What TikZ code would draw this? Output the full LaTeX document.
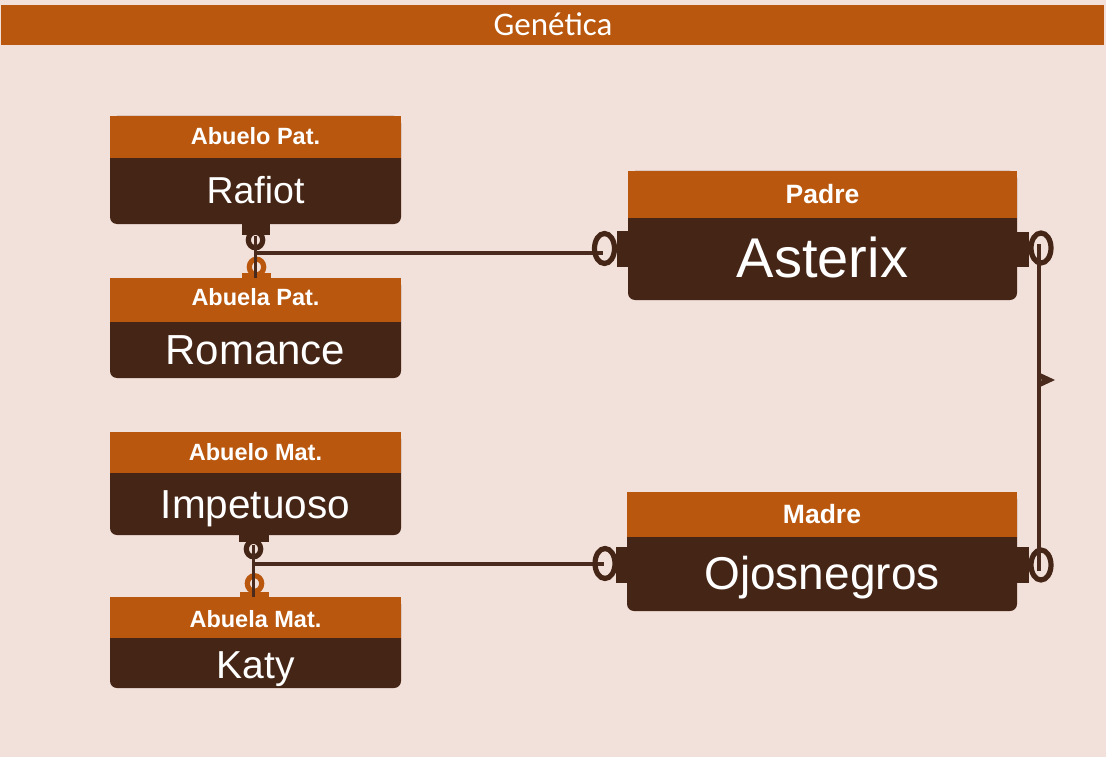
\documentclass[tikz,border=0pt]{standalone}
\usepackage{fontspec}
\setmainfont{Liberation Sans}
\newfontfamily\titlefont{Carlito}
\definecolor{bg}{HTML}{F2E0DA}
\definecolor{orng}{HTML}{B9570E}
\definecolor{drk}{HTML}{452516}
\definecolor{lnk}{HTML}{4A2A1C}
\tikzset{
  hdrtxt/.style={anchor=base,text=white,inner sep=0pt,font=\bfseries\fontsize{23.5}{28}\selectfont},
  bighdr/.style={anchor=base,text=white,inner sep=0pt,font=\bfseries\fontsize{26.5}{30}\selectfont},
  bigtxt/.style={anchor=base,text=white,inner sep=0pt},
  link/.style={draw=lnk,line width=3.6pt},
  ringd/.style={draw=drk,line width=5.2pt},
  ringo/.style={draw=orng,line width=5.2pt},
  ringe/.style={draw=drk,line width=5.2pt},
}
\newcommand\erentity[5]{% x1 x2 top headerbottom bottom
  \fill[drk,rounded corners=7pt] (#1,#3) rectangle (#2,#5);
  \fill[orng] (#1,#3) rectangle (#2,#4);
}
\begin{document}
\begin{tikzpicture}[x=1pt,y=-1pt]
\useasboundingbox (0,0) rectangle (1106,757);
\fill[bg] (0,0) rectangle (1106,757);
% title
\fill[orng] (1,5) rectangle (1104,45);
\node[anchor=base,text=white,inner sep=0pt,font=\titlefont\fontsize{33}{37}\selectfont] (title) at (553,36) {Genética};

% entity shapes
\erentity{110}{401}{116}{158}{224}
\erentity{110}{401}{278}{322}{378}
\erentity{110}{401}{432}{473}{535}
\erentity{110}{401}{597}{638}{688}
\erentity{628}{1017}{171}{218}{300}
\erentity{627}{1017}{492}{537}{611}

% texts
\node[hdrtxt] (hAbPat) at (255.5,144.5) {Abuelo Pat.};
\node[bigtxt,font=\fontsize{37.5}{42}\selectfont] (Rafiot) at (255.5,203) {Rafiot};
\node[hdrtxt] (hAbaPat) at (255.5,305.5) {Abuela Pat.};
\node[bigtxt,font=\fontsize{42}{46}\selectfont] (Romance) at (255.5,364) {Romance};
\node[hdrtxt] (hAbMat) at (255.5,460) {Abuelo Mat.};
\node[bigtxt,font=\fontsize{40.5}{45}\selectfont] (Impetuoso) at (255.5,518) {Impetuoso};
\node[hdrtxt] (hAbaMat) at (255.5,627) {Abuela Mat.};
\node[bigtxt,font=\fontsize{39}{44}\selectfont] (Katy) at (255.5,678) {Katy};
\node[bighdr] (hPadre) at (822.5,203) {Padre};
\node[bigtxt,font=\fontsize{56}{60}\selectfont] (Asterix) at (822.5,277) {Asterix};
\node[bighdr] (hMadre) at (822,523) {Madre};
\node[bigtxt,font=\fontsize{46}{52}\selectfont] (Ojosnegros) at (822,589) {Ojosnegros};

% connection points
\coordinate (pTop) at (255.5,236);
\coordinate (pBot) at (255.5,278);
\coordinate (pJoin) at (255.5,253);
\coordinate (pPadreL) at (603,253);
\coordinate (mTop) at (253.5,545);
\coordinate (mBot) at (253.5,597);
\coordinate (mJoin) at (253.5,564);
\coordinate (mMadreL) at (604,564);
\coordinate (padreR) at (1039,244);
\coordinate (madreR) at (1039,571);

% paternal grandparents link
\fill[drk] (242,223) rectangle (270,235);
\draw[ringd] (255.5,240) ellipse[x radius=7.2pt,y radius=7.8pt];
\fill[orng] (242,273) rectangle (271,278.5);
\draw[ringo] (256.5,267) ellipse[x radius=7.2pt,y radius=7.8pt];
\draw[link] (pTop) -- (pBot);
\draw[link] (pJoin) -- (pPadreL);
% padre left end
\fill[drk] (617,231) rectangle (629,267);
\draw[ringe] (604.5,248.5) ellipse[x radius=10pt,y radius=15pt];

% maternal grandparents link
\fill[drk] (239,534) rectangle (269,542);
\draw[ringd] (253.5,549) ellipse[x radius=7.2pt,y radius=7.8pt];
\fill[orng] (240,591.5) rectangle (269,597.5);
\draw[ringo] (254.5,583.5) ellipse[x radius=7.2pt,y radius=7.8pt];
\draw[link] (mTop) -- (mBot);
\draw[link] (mJoin) -- (mMadreL);
% madre left end
\fill[drk] (616,547) rectangle (628,583);
\draw[ringe] (605,563.5) ellipse[x radius=10pt,y radius=15pt];

% right side link padre-madre
\fill[drk] (1016,232) rectangle (1029,267);
\draw[ringe] (1041,248) ellipse[x radius=10pt,y radius=15pt];
\fill[drk] (1016,547) rectangle (1029,583);
\draw[ringe] (1041,565) ellipse[x radius=10pt,y radius=15pt];
\draw[link] (padreR) -- (madreR);
\fill[lnk] (1039,372.5) -- (1055,380) -- (1039,387.5) -- (1041.5,380) -- cycle;
\end{tikzpicture}
\end{document}
